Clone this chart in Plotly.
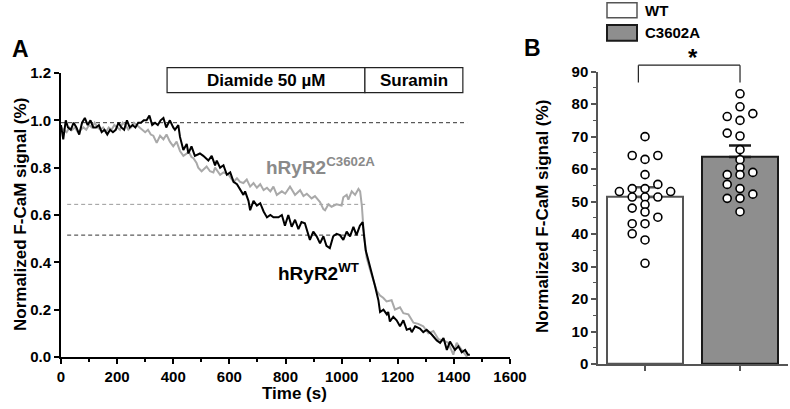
import numpy as np
import plotly.graph_objects as go

W, H = 790, 409
FONT = "Arial, Liberation Sans, sans-serif"

# ---------------- Panel A data (time course) ----------------
wt_time = [0, 8, 17, 25, 35, 45, 55, 65, 75, 85, 95, 105, 115, 125, 135, 145, 155, 165, 175, 185,
           195, 205, 215, 225, 235, 245, 255, 265, 275, 285, 295, 305, 315, 325, 335, 345, 355, 365,
           375, 388, 400, 406, 418, 424, 436, 448, 454, 465, 477, 495, 507, 525, 537, 549, 555, 567,
           579, 591, 603, 615, 627, 638, 650, 656, 668, 674, 686, 698, 710, 722, 734, 746, 757, 775,
           787, 798, 810, 822, 834, 846, 857, 869, 881, 887, 899, 911, 923, 935, 946, 958, 970, 982,
           994, 1006, 1018, 1030, 1042, 1053, 1065, 1075, 1080, 1086, 1095, 1107, 1119, 1131, 1137,
           1149, 1161, 1166, 1172, 1184, 1196, 1208, 1220, 1232, 1244, 1250, 1262, 1279, 1291, 1303,
           1321, 1339, 1351, 1363, 1375, 1386, 1404, 1416, 1428, 1440, 1450, 1457]
wt_signal = [0.98, 0.92, 1.00, 0.97, 0.96, 0.99, 0.97, 0.94, 0.99, 1.01, 0.98, 1.00, 0.97, 0.97, 0.98,
             0.95, 0.96, 0.94, 0.96, 0.95, 0.96, 0.99, 0.97, 0.96, 1.00, 0.97, 0.98, 0.97, 0.99, 0.99,
             1.00, 1.00, 1.02, 0.98, 0.99, 0.98, 1.00, 1.01, 0.97, 1.00, 0.97, 0.96, 0.98, 0.93, 0.875,
             0.90, 0.86, 0.89, 0.85, 0.86, 0.85, 0.83, 0.85, 0.81, 0.83, 0.80, 0.81, 0.77, 0.78, 0.74,
             0.73, 0.71, 0.685, 0.70, 0.66, 0.62, 0.66, 0.64, 0.65, 0.615, 0.59, 0.60, 0.59, 0.59, 0.60,
             0.555, 0.60, 0.55, 0.58, 0.54, 0.57, 0.565, 0.52, 0.495, 0.53, 0.51, 0.48, 0.51, 0.47, 0.46,
             0.51, 0.52, 0.515, 0.495, 0.53, 0.51, 0.55, 0.515, 0.555, 0.57, 0.51, 0.45, 0.41, 0.36,
             0.30, 0.24, 0.19, 0.20, 0.18, 0.19, 0.15, 0.17, 0.155, 0.13, 0.155, 0.115, 0.12, 0.105,
             0.13, 0.12, 0.105, 0.115, 0.095, 0.07, 0.06, 0.08, 0.03, 0.065, 0.03, 0.045, 0.02, 0.03,
             0.01, 0.01]

mut_time = [0, 10, 20, 30, 40, 50, 60, 70, 80, 90, 100, 110, 120, 130, 140, 150, 160, 170, 180, 190,
            200, 210, 220, 230, 240, 250, 260, 270, 280, 290, 300, 310, 320, 329, 341, 353, 365, 376,
            388, 400, 412, 424, 436, 448, 454, 465, 472, 483, 489, 501, 513, 519, 531, 543, 549, 567,
            579, 597, 615, 627, 638, 650, 662, 674, 686, 698, 710, 722, 734, 746, 757, 769, 787, 799,
            816, 834, 852, 864, 876, 893, 905, 923, 935, 941, 953, 964, 982, 1000, 1006, 1018, 1024,
            1036, 1048, 1060, 1066, 1072, 1078, 1083, 1089, 1101, 1113, 1125, 1137, 1148, 1160, 1178,
            1190, 1208, 1220, 1238, 1256, 1273, 1291, 1309, 1327, 1345, 1362, 1380, 1398, 1410, 1422,
            1440, 1447]
mut_signal = [0.97, 0.96, 0.95, 0.97, 0.96, 0.97, 0.95, 0.96, 0.97, 0.96, 0.98, 0.97, 0.99, 0.97,
              0.96, 0.97, 0.95, 0.97, 0.96, 0.98, 0.97, 0.96, 0.99, 0.98, 0.96, 0.97, 0.99, 0.98,
              0.97, 0.96, 0.95, 0.96, 0.94, 0.935, 0.905, 0.935, 0.92, 0.94, 0.91, 0.89, 0.91, 0.87,
              0.85, 0.86, 0.87, 0.845, 0.84, 0.82, 0.80, 0.785, 0.80, 0.805, 0.785, 0.78, 0.80, 0.77,
              0.78, 0.77, 0.74, 0.755, 0.74, 0.735, 0.75, 0.72, 0.735, 0.715, 0.73, 0.705, 0.715,
              0.70, 0.72, 0.685, 0.70, 0.69, 0.72, 0.685, 0.705, 0.68, 0.69, 0.67, 0.68, 0.655,
              0.625, 0.62, 0.645, 0.635, 0.645, 0.64, 0.675, 0.685, 0.665, 0.70, 0.685, 0.71, 0.70,
              0.64, 0.54, 0.47, 0.42, 0.37, 0.32, 0.28, 0.26, 0.25, 0.235, 0.24, 0.20, 0.21, 0.185,
              0.18, 0.145, 0.14, 0.13, 0.10, 0.11, 0.075, 0.07, 0.06, 0.01, 0.06, 0.04, 0.01, 0.0]

baseline_level = 0.99
baseline_span = [0, 1447]
plateau_levels = [0.515, 0.645]      # WT, C3602A
plateau_span = [22, 1085]

treatments = ["Diamide 50 µM", "Suramin"]
treatment_bounds = [378, 1083, 1432]

x_ticks_a = [0, 200, 400, 600, 800, 1000, 1200, 1400, 1600]
y_ticks_a = [0.0, 0.2, 0.4, 0.6, 0.8, 1.0, 1.2]

# ---------------- Panel B data (bar + points) ----------------
groups = ["WT", "C3602A"]
group_means = [51.4, 63.7]
group_sems = [3.0, 3.6]
wt_points = [70.0, 64.2, 64.2, 63.0, 58.3, 55.3, 54.0, 53.1, 53.1, 54.0, 51.4, 51.4, 51.4,
             49.1, 48.0, 46.8, 45.2, 43.2, 43.2, 40.1, 38.2, 31.0]
mut_points = [83.2, 79.2, 76.2, 77.1, 75.0, 71.1, 70.2, 66.0, 62.9, 60.5, 59.0, 58.3, 58.3,
              55.3, 54.0, 52.3, 51.0, 51.0, 46.9]
y_ticks_b = [0, 10, 20, 30, 40, 50, 60, 70, 80, 90]


def px(x):
    return x / W


def py(y):
    return 1 - y / H


def swarm(values, step=0.135, thresh=2.2):
    order = np.argsort(values, kind="stable")
    cols = {}
    offs = [0.0] * len(values)
    cands = [0]
    for n in range(1, 12):
        cands += [-n, n]
    for i in order:
        v = values[i]
        for s in cands:
            if all(abs(v - u) >= thresh for u in cols.get(s, [])):
                cols.setdefault(s, []).append(v)
                offs[i] = s * step
                break
    return offs


# domains
AX = [px(61), px(510)]
AY = [py(357), py(73)]
BX = [px(598), px(788)]
BY = [py(364), py(71.7)]
B_RANGE_Y = [0, 90]


def b_paper_y(v):
    return BY[0] + (v - B_RANGE_Y[0]) / (B_RANGE_Y[1] - B_RANGE_Y[0]) * (BY[1] - BY[0])


fig = go.Figure()

# Panel A traces
fig.add_trace(go.Scatter(x=mut_time, y=mut_signal, mode="lines",
                         line=dict(color="#a9a9a9", width=2), xaxis="x", yaxis="y",
                         showlegend=False, hoverinfo="skip"))
fig.add_trace(go.Scatter(x=wt_time, y=wt_signal, mode="lines",
                         line=dict(color="black", width=2), xaxis="x", yaxis="y",
                         showlegend=False, hoverinfo="skip"))

# Panel B bars
bar_fill = ["white", "#8e8e8e"]
bar_line = ["#555555", "#1a1a1a"]
for i, g in enumerate(groups):
    fig.add_trace(go.Bar(x=[i], y=[group_means[i]], width=0.8, xaxis="x2", yaxis="y2",
                         marker=dict(color=bar_fill[i], line=dict(color=bar_line[i], width=2)),
                         error_y=dict(type="data", array=[group_sems[i]], arrayminus=[0],
                                      symmetric=False, color=bar_line[i], thickness=2.5, width=11),
                         showlegend=False, hoverinfo="skip"))

for i, pts in enumerate([wt_points, mut_points]):
    offs = swarm(pts)
    fig.add_trace(go.Scatter(x=[i + o for o in offs], y=pts, mode="markers", xaxis="x2", yaxis="y2",
                             marker=dict(size=8, color="white", line=dict(color="black", width=1.6)),
                             cliponaxis=False, showlegend=False, hoverinfo="skip"))

shapes = []
# dashed reference lines
shapes.append(dict(type="line", xref="x", yref="y", x0=baseline_span[0], x1=baseline_span[1],
                   y0=baseline_level, y1=baseline_level, layer="below",
                   line=dict(color="#333333", width=1, dash="4px,3px")))
for lvl, col in zip(plateau_levels, ["#333333", "#9a9a9a"]):
    shapes.append(dict(type="line", xref="x", yref="y", x0=plateau_span[0], x1=plateau_span[1],
                       y0=lvl, y1=lvl, layer="below", line=dict(color=col, width=1, dash="4px,3px")))
# treatment boxes
for k in range(2):
    shapes.append(dict(type="rect", xref="x", yref="paper", x0=treatment_bounds[k],
                       x1=treatment_bounds[k + 1], y0=py(92.7), y1=py(67.7),
                       line=dict(color="#222222", width=1.2), fillcolor="white"))
# significance bracket
bx0, bx1 = -0.07, 1.0
shapes.append(dict(type="line", xref="x2", yref="paper", x0=bx0, x1=bx1,
                   y0=b_paper_y(92), y1=b_paper_y(92), line=dict(color="#222", width=1.2)))
for bx in (bx0, bx1):
    shapes.append(dict(type="line", xref="x2", yref="paper", x0=bx, x1=bx,
                       y0=b_paper_y(86.7), y1=b_paper_y(92), line=dict(color="#222", width=1.2)))
# legend boxes
shapes.append(dict(type="rect", xref="paper", yref="paper", x0=px(607), x1=px(637),
                   y0=py(17.7), y1=py(2.7), fillcolor="white", line=dict(color="#555", width=1.5)))
shapes.append(dict(type="rect", xref="paper", yref="paper", x0=px(607), x1=px(637),
                   y0=py(40.7), y1=py(25), fillcolor="#8e8e8e", line=dict(color="#1a1a1a", width=2)))

ann = []


def add_text(text, x, y, size, xref="paper", yref="paper", color="black", xanchor="center",
             yanchor="middle", angle=0, bold=True):
    ann.append(dict(text=text, x=x, y=y, xref=xref, yref=yref, showarrow=False,
                    xanchor=xanchor, yanchor=yanchor, textangle=angle,
                    font=dict(family=FONT, size=size, color=color,
                              weight="bold" if bold else "normal")))


add_text("A", px(20), py(49), 23)
add_text("B", px(532), py(48), 23)
add_text("Normalized F-CaM signal (%)", px(20), py(215), 17, angle=-90)
add_text("Normalized F-CaM signal (%)", px(543), py(217), 17, angle=-90)
add_text("Time (s)", px(294), py(393), 17)
add_text(treatments[0], (treatment_bounds[0] + treatment_bounds[1]) / 2, py(80.5), 17, xref="x")
add_text(treatments[1], (treatment_bounds[1] + treatment_bounds[2]) / 2, py(80.5), 17, xref="x")
add_text("hRyR2<sup>C3602A</sup>", px(264), py(166), 19, color="#8a8a8a", xanchor="left")
add_text("hRyR2<sup>WT</sup>", px(276), py(272), 19, xanchor="left")
add_text("*", 0.5, py(57), 24, xref="x2")
add_text(groups[0], px(643), py(10), 15, xanchor="left")
add_text(groups[1], px(643), py(33), 15, xanchor="left")

tickfont = dict(family=FONT, size=15, color="black", weight="bold")

fig.update_layout(
    width=W, height=H, margin=dict(l=0, r=0, t=0, b=0, autoexpand=False),
    paper_bgcolor="white", plot_bgcolor="white", showlegend=False, bargap=0,
    shapes=shapes, annotations=ann,
    xaxis=dict(domain=AX, range=[0, 1600], anchor="y", tickvals=x_ticks_a, showgrid=False,
               zeroline=False, showline=True, linecolor="black", linewidth=2, ticks="outside",
               ticklen=5, tickwidth=2, tickcolor="black", tickfont=tickfont, automargin=False,
               minor=dict(ticks="outside", ticklen=3, tickwidth=1.5, tickcolor="black",
                          dtick=100, tick0=0, showgrid=False)),
    yaxis=dict(domain=AY, range=[0, 1.2], anchor="x", tickvals=y_ticks_a, tickformat=".1f",
               showgrid=False, zeroline=False, showline=True, linecolor="black", linewidth=2,
               ticks="outside", ticklen=5, tickwidth=2, tickcolor="black", tickfont=tickfont,
               automargin=False),
    xaxis2=dict(domain=BX, range=[-0.495, 1.505], anchor="y2", tickvals=[0, 1],
                showticklabels=False, showgrid=False, zeroline=False, showline=True,
                linecolor="#555555", linewidth=1.5, ticks="outside", ticklen=5, tickwidth=1.5,
                tickcolor="#555555", automargin=False),
    yaxis2=dict(domain=BY, range=B_RANGE_Y, anchor="x2", tickvals=y_ticks_b, showgrid=False,
                zeroline=False, showline=True, linecolor="#555555", linewidth=1.5,
                ticks="outside", ticklen=5, tickwidth=1.5, tickcolor="#555555", tickfont=tickfont,
                automargin=False,
                minor=dict(ticks="outside", ticklen=3, tickwidth=1, tickcolor="#555555",
                           dtick=5, tick0=0, showgrid=False)),
)

fig.write_html("out.html", config={"displayModeBar": False},
               post_script="document.body.style.margin='0';document.body.style.overflow='hidden';")
